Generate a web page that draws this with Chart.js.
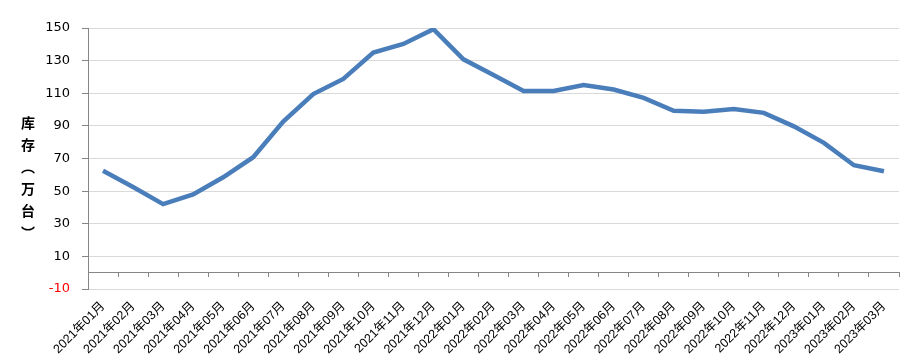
<!DOCTYPE html>
<html>
<head>
<meta charset="utf-8">
<script src="https://cdn.jsdelivr.net/npm/chart.js@4"></script>
<style>
  body { margin: 0; background: #fff; }
  #wrap { position: relative; width: 911px; height: 364px; }
  #ytitle {
    position: absolute; left: 18px; top: 116px;
    writing-mode: vertical-rl;
    font-family: "Noto Sans CJK SC", sans-serif;
    font-weight: bold; font-size: 14px; letter-spacing: 8px; color: #000;
  }
</style>
</head>
<body>
<div id="wrap">
  <canvas id="chart" width="911" height="364"></canvas>
  <div id="ytitle">库存（万台）</div>
</div>
<script>
const months = [
  '2021年01月', '2021年02月', '2021年03月', '2021年04月', '2021年05月', '2021年06月',
  '2021年07月', '2021年08月', '2021年09月', '2021年10月', '2021年11月', '2021年12月',
  '2022年01月', '2022年02月', '2022年03月', '2022年04月', '2022年05月', '2022年06月',
  '2022年07月', '2022年08月', '2022年09月', '2022年10月', '2022年11月', '2022年12月',
  '2023年01月', '2023年02月', '2023年03月'
];
const stock = [
  62.5, 52.5, 42, 48, 58.5, 70.8, 92.6, 109.5, 118.8, 135, 140.2, 149.3,
  130.8, 121.2, 111.4, 111.4, 115, 112.3, 107.2, 99.2, 98.6, 100.3, 98, 89.7,
  79.6, 65.9, 62.2
];
const yTicks = [-10, 10, 30, 50, 70, 90, 110, 130, 150];

const axisGray = '#868686';
const gridGray = '#d9d9d9';

const ctx = document.getElementById('chart').getContext('2d');
new Chart(ctx, {
  type: 'line',
  data: {
    labels: months,
    datasets: [{
      data: stock,
      borderColor: '#4a7ebb',
      borderWidth: 4.5,
      pointRadius: 0,
      tension: 0,
      fill: false,
    }],
  },
  options: {
    responsive: false,
    animation: false,
    layout: { padding: { top: 28, right: 12, left: 0, bottom: 0 } },
    plugins: { legend: { display: false }, tooltip: { enabled: false } },
    scales: {
      x: {
        position: 'bottom',
        offset: true,
        grid: { display: false },
        border: { display: false },
        ticks: {
          minRotation: 45,
          maxRotation: 45,
          autoSkip: false,
          padding: 2,
          color: '#000',
          font: { family: '"Liberation Sans", "Noto Sans CJK SC", sans-serif', size: 12.5 },
        },
        afterFit: (scale) => { scale.height = 75; },
      },
      x0: {
        axis: 'x',
        type: 'category',
        position: { y: 0 },
        offset: true,
        grid: {
          offset: true,
          drawOnChartArea: false,
          drawTicks: true,
          tickLength: 4,
          tickColor: axisGray,
        },
        border: { display: true, color: axisGray, width: 1 },
        ticks: { display: false },
        afterFit: (scale) => { scale.height = 0; },
      },
      y: {
        min: -10,
        max: 150,
        afterBuildTicks: (scale) => { scale.ticks = yTicks.map(v => ({ value: v })); },
        grid: { color: gridGray, tickColor: axisGray, tickLength: 6 },
        border: { color: axisGray, width: 1 },
        ticks: {
          padding: 12,
          color: (c) => (c.tick && c.tick.value < 0 ? '#ff0000' : '#000'),
          font: { family: '"DejaVu Sans", sans-serif', size: 13 },
        },
        afterFit: (scale) => { scale.width = 88; },
      },
    },
  },
});
</script>
</body>
</html>
